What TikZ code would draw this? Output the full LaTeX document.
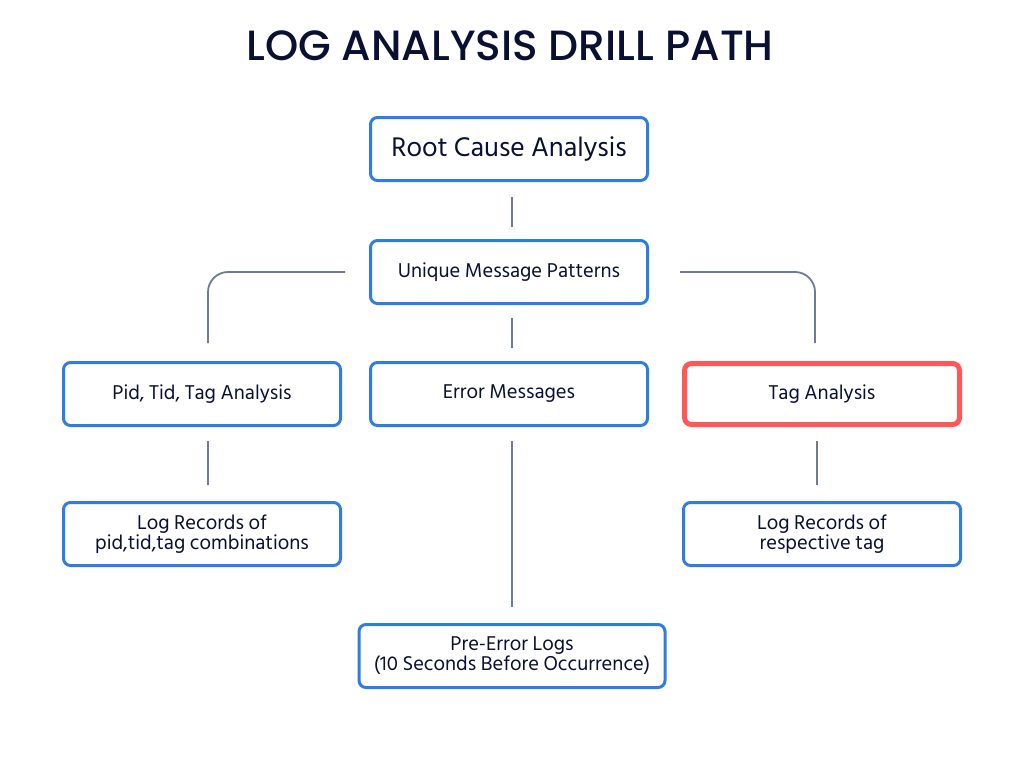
\documentclass[tikz,border=0pt]{standalone}
\usepackage{fontspec}
\setmainfont{Hind Siliguri}
\IfFontExistsTF{Poppins Medium}{\newfontfamily\titlefont{Poppins Medium}}{\newfontfamily\titlefont{Poppins}}
\usetikzlibrary{positioning}
\definecolor{boxblue}{RGB}{47,125,225}
\definecolor{boxred}{RGB}{255,88,88}
\definecolor{linkgray}{RGB}{110,122,152}
\definecolor{inkdark}{RGB}{10,16,50}

\begin{document}
\begin{tikzpicture}[x=1pt,y=-1pt,
main box/.style={rectangle,draw=boxblue,line width=3pt,rounded corners=7pt,
  minimum width=277pt,minimum height=63pt,align=center,text=inkdark,font=\fontsize{20.5}{20}\selectfont},
link/.style={draw=linkgray,line width=1.8pt}]

\useasboundingbox (0,0) rectangle (1024,768);

\node[text=inkdark,font=\titlefont\fontsize{42.3}{46}\selectfont] (title) at (510,46) {LOG ANALYSIS DRILL PATH};

\node[main box,font=\fontsize{27.6}{30}\selectfont] (root) at (509,149) {Root Cause Analysis};
\node[main box] (unique) at (509,272) {Unique Message Patterns};
\node[main box] (pid) at (202,394) {Pid, Tid, Tag Analysis};
\node[main box] (error) at (509,394) {Error Messages};
\node[main box,draw=boxred,line width=5pt,minimum width=275pt,minimum height=61pt] (tag) at (822,394) {Tag Analysis};
\node[main box] (logpid) at (202,534) {Log Records of\\pid,tid,tag combinations};
\node[main box] (logtag) at (822,534) {Log Records of\\respective tag};
\node[main box,minimum width=306pt] (pre) at (512,656) {Pre-Error Logs\\(10 Seconds Before Occurrence)};

\path[link]
	([xshift=3pt]root.south) edge[shorten <=15pt,shorten >=12pt] ([xshift=3pt]unique.north)
	([xshift=3pt]unique.south) edge[shorten <=13pt,shorten >=13pt] ([xshift=3pt]error.north)
	([xshift=6pt]pid.south) edge[shorten <=14pt,shorten >=16pt] ([xshift=6pt]logpid.north)
	([xshift=3pt]error.south) edge[shorten <=14pt,shorten >=16pt] (pre.north)
	([xshift=-5pt]tag.south) edge[shorten <=14pt,shorten >=16pt] ([xshift=-5pt]logtag.north);

\draw[link,rounded corners=20pt,shorten <=24pt,shorten >=18pt]
	(unique.west) -| ([xshift=6pt]pid.north);
\draw[link,rounded corners=20pt,shorten <=31pt,shorten >=18pt]
	(unique.east) -| ([xshift=-7pt]tag.north);

\end{tikzpicture}
\end{document}
